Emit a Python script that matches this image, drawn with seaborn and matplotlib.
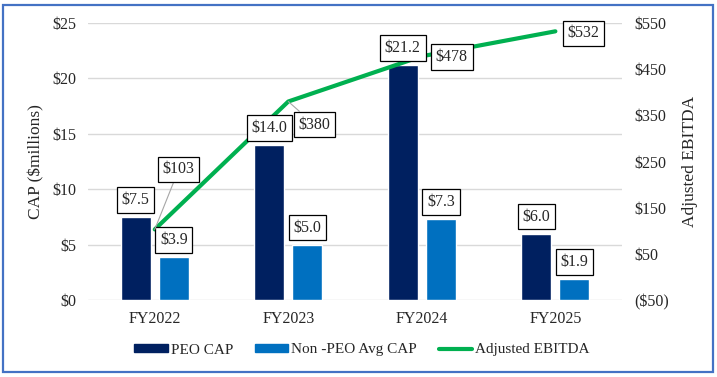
import numpy as np
import pandas as pd
import matplotlib.pyplot as plt
import seaborn as sns
from matplotlib.patches import Rectangle, Patch
from matplotlib.lines import Line2D

# chart data
years = ["FY2022", "FY2023", "FY2024", "FY2025"]
peo_cap = [7.5, 14.0, 21.2, 6.0]
non_peo_cap = [3.9, 5.0, 7.3, 1.9]
ebitda = [103, 380, 478, 532]
series_names = ["PEO CAP", "Non -PEO Avg CAP"]
line_name = "Adjusted EBITDA"

navy, blue, green = "#002060", "#0070C0", "#00B050"

sns.set_style("white")
plt.rcParams["font.family"] = ["Liberation Serif", "DejaVu Serif"]
plt.rcParams["font.size"] = 11.5

df = pd.DataFrame({
    "year": years * 2,
    "cap": peo_cap + non_peo_cap,
    "series": [series_names[0]] * 4 + [series_names[1]] * 4,
})

fig = plt.figure(figsize=(7.17, 3.77), dpi=100)
ax = fig.add_axes([0.1227, 0.204, 0.745, 0.735])

sns.barplot(data=df, x="year", y="cap", hue="series", palette=[navy, blue],
            width=0.57, gap=0.21, saturation=1, legend=False, ax=ax)
ax.set_ylim(0, 25)
ax.set_yticks(np.arange(0, 26, 5))
ax.set_yticklabels([f"${v}" for v in range(0, 26, 5)])
ax.set_xlabel("")
ax.set_ylabel("CAP ($millions)", fontsize=12.5, labelpad=6)
ax.grid(axis="y", color="#D9D9D9", lw=1)
ax.set_axisbelow(True)
for s in ax.spines.values():
    s.set_visible(False)
ax.tick_params(axis="both", length=0, labelsize=11.5)
ax.tick_params(axis="y", pad=8)
ax.tick_params(axis="x", pad=8)

ax2 = ax.twinx()
sns.lineplot(x=np.arange(len(years)), y=ebitda, color=green, lw=3, ax=ax2)
ax.set_xlim(-0.5, len(years) - 0.5)
ax2.set_ylim(-50, 550)
rticks = np.arange(-50, 551, 100)
ax2.set_yticks(rticks)
ax2.set_yticklabels([f"(${-v})" if v < 0 else f"${v}" for v in rticks])
ax2.set_ylabel("Adjusted EBITDA", fontsize=12.5, labelpad=9)
for s in ax2.spines.values():
    s.set_visible(False)
ax2.tick_params(axis="y", length=0, labelsize=11.5, pad=9)
ax2.grid(False)

box = dict(boxstyle="square,pad=0.3", fc="white", ec="black", lw=0.9)

# bar labels
for bars in ax.containers:
    for rect in bars:
        h = rect.get_height()
        xc = rect.get_x() + rect.get_width() / 2
        ax2.annotate(f"${h:.1f}", xy=(xc, h), xycoords=ax.transData,
                     xytext=(0, 17), textcoords="offset pixels",
                     ha="center", va="center", fontsize=11.5, bbox=box)

# line labels
line_offsets = [(24, 60), (26, -23), (30, -1), (28, -2)]
leaders = [True, True, False, False]
for i, v in enumerate(ebitda):
    ap = dict(arrowstyle="-", color="#A6A6A6", lw=0.8, shrinkA=0, shrinkB=0) if leaders[i] else None
    ax2.annotate(f"${v}", xy=(i, v), xytext=line_offsets[i], textcoords="offset pixels",
                 ha="center", va="center", fontsize=11.5, bbox=box, arrowprops=ap)

handles = [Patch(color=navy), Patch(color=blue), Line2D([], [], color=green, lw=3)]
fig.legend(handles, series_names + [line_name], loc="center", ncol=3,
           bbox_to_anchor=(0.505, 1 - 350 / 377), frameon=False, fontsize=11,
           handlelength=2.2, handleheight=0.5, handletextpad=0.2, columnspacing=1.4)

fig.patches.append(Rectangle((3 / 717, 5 / 377), 710 / 717, 367 / 377,
                             transform=fig.transFigure, fill=False,
                             ec="#4472C4", lw=1.6))

fig.savefig("out.png", dpi=100)
